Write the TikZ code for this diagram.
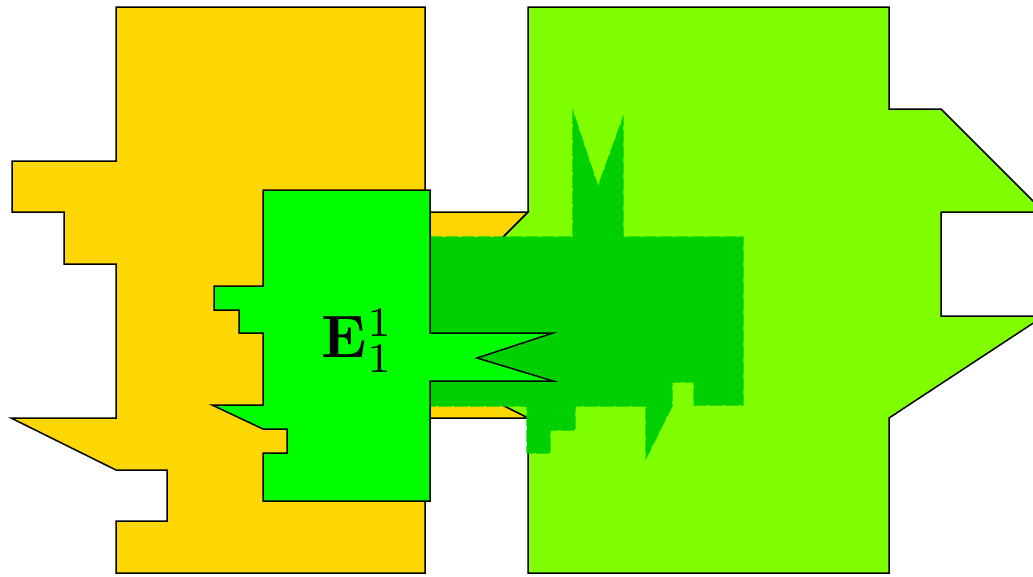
\documentclass[tikz,border=0pt]{standalone}
\begin{document}
\definecolor{gold}{HTML}{FFD700}
\definecolor{lime}{HTML}{80FF00}
\definecolor{brightgreen}{HTML}{00FF00}
\definecolor{midgreen}{HTML}{00D000}
\begin{tikzpicture}[x=1pt,y=-1pt,
  region/.style={draw=black,line width=1.5pt,line join=miter},
  rough/.style={fill=midgreen,draw=midgreen,line width=1.2pt,dash pattern=on 13pt off 3pt}]
\useasboundingbox (0,0) rectangle (1033,576);
\clip (0,0) rectangle (1033,576);

% right-hand region
\path[region,fill=lime]
  (528,7) -- (889,7) -- (889,109) -- (941,109) -- (1044,212) -- (941,212)
  -- (941,316) -- (1044,316) -- (889,418) -- (889,573) -- (528,573)
  -- (528,418) -- (476,392) -- (476,264) -- (528,212) -- cycle;

% left-hand region
\path[region,fill=gold]
  (116,7) -- (425,7) -- (425,212) -- (528,212) -- (476,264) -- (476,392)
  -- (528,418) -- (425,418) -- (425,573) -- (116,573) -- (116,521)
  -- (167,521) -- (167,470) -- (116,470) -- (11,418) -- (116,418)
  -- (116,264) -- (64,264) -- (64,212) -- (12,212) -- (12,161)
  -- (116,161) -- cycle;

% overlap band
\path[rough]
  (430,237) -- (573,237) -- (573,112) -- (598,187) -- (623,118) -- (623,237)
  -- (743,237) -- (743,405) -- (694,405) -- (694,382) -- (672,382)
  -- (672,406) -- (646,458) -- (646,406) -- (575,406) -- (575,430)
  -- (550,430) -- (550,453) -- (527,453) -- (527,406) -- (430,406) -- cycle;

% labelled region
\path[region,fill=brightgreen]
  (263,190) -- (430,190) -- (430,333) -- (553,333) -- (477,358) -- (553,381)
  -- (430,381) -- (430,501) -- (263,501) -- (263,453) -- (287,453)
  -- (287,429) -- (263,429) -- (212,405) -- (263,405) -- (263,333)
  -- (239,333) -- (239,310) -- (214,310) -- (214,286) -- (263,286) -- cycle;

\node[inner sep=0pt,scale=6] (label) at (358,341) {$\mathbf{E}_1^1$};
\end{tikzpicture}
\end{document}
